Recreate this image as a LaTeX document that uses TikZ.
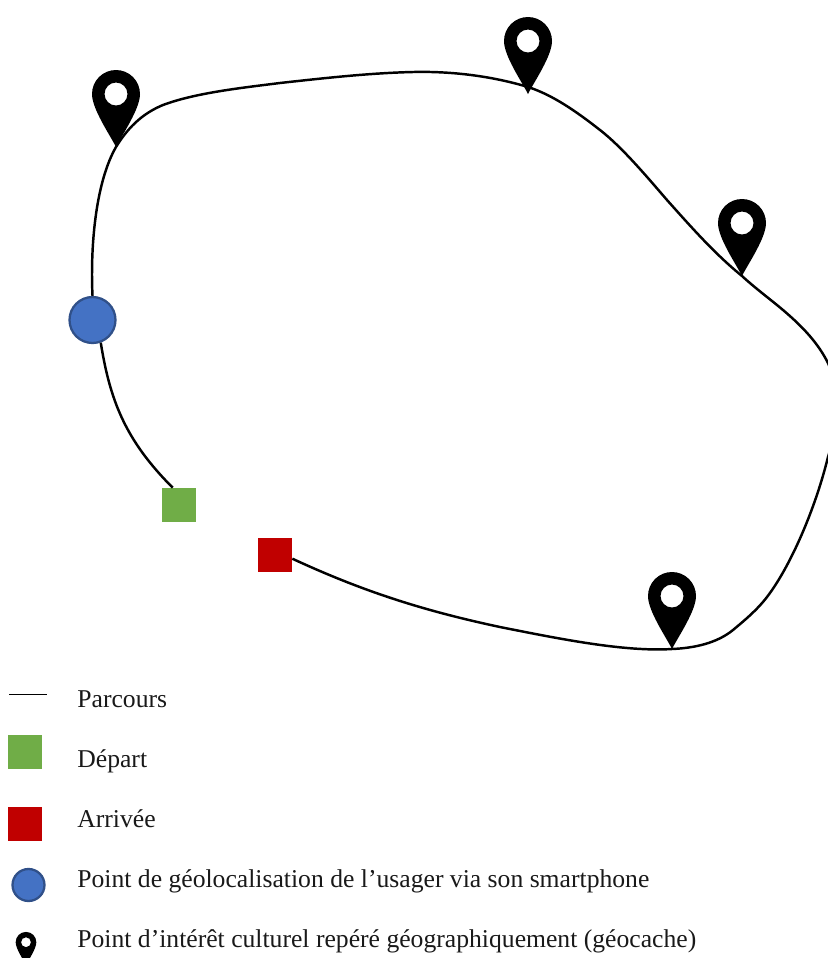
\documentclass[tikz,border=0pt]{standalone}
\usepackage{fontspec}
\setmainfont{Liberation Serif}
\usetikzlibrary{positioning}

\begin{document}
\begin{tikzpicture}[
    x=0.02cm, y=-0.02cm,
    route/.style={draw=black, line width=1.4pt},
    depart/.style={rectangle, fill=startgreen, minimum size=0.68cm, inner sep=0pt},
    arrivee/.style={rectangle, fill=endred, minimum size=0.68cm, inner sep=0pt},
    geoloc/.style={circle, draw=userblue!70!black, line width=1.3pt, fill=userblue, inner sep=0pt},
    legend/.style={anchor=base west, inner sep=0pt, font=\fontsize{14.6}{17}\selectfont, text=black!90},
    pinmark/.pic={
        \fill[black, even odd rule] (0,0) .. controls (-6,-12) and (-24,-38) .. (-24,-53)
            arc (180:360:24) .. controls (24,-38) and (6,-12) .. (0,0) -- cycle
            (0,-53) circle (11.5);
    }
]
\definecolor{startgreen}{HTML}{70AD47}
\definecolor{endred}{HTML}{C00000}
\definecolor{userblue}{HTML}{4472C4}

\clip (0,0) rectangle (828,958);
\useasboundingbox (0,0) rectangle (828,958);

% Markers on the route
\node[depart] (start) at (179,505) {};
\node[arrivee] (finish) at (275,555) {};
\node[geoloc, minimum size=0.92cm] (user) at (92.5,320) {};

% Points of interest
\coordinate (pinW) at (116,147);
\coordinate (pinN) at (528,94);
\coordinate (pinE) at (742,276);
\coordinate (pinS) at (672,649);

% Route
\draw[route] (finish.-12) .. controls (360,590) and (420,610) .. (500,627)
    .. controls (560,639) and (625,652) .. (pinS)
    .. controls (695,648) and (717,643) .. (733,630)
    .. controls (745,620) and (757,610) .. (767,597)
    .. controls (790,567) and (815,510) .. (828,457)
    .. controls (838,425) and (840,390) .. (828,363)
    .. controls (818,343) and (803,327) .. (783,310)
    .. controls (770,299) and (755,288) .. (pinE)
    .. controls (715,254) and (692,228) .. (667,200)
    .. controls (648,178) and (622,147) .. (600,130)
    .. controls (577,112) and (553,95) .. (528,87)
    .. controls (495,77) and (455,71) .. (413,72)
    .. controls (370,73) and (325,78) .. (280,83)
    .. controls (240,88) and (195,93) .. (163,105)
    .. controls (146,112) and (130,124) .. (pinW)
    .. controls (97,180) and (90,240) .. (user.north);
\draw[route] (user.-70) .. controls (110,400) and (125,440) .. (start.110);

\pic at (pinW) {pinmark};
\pic at (pinN) {pinmark};
\pic at (pinE) {pinmark};
\pic at (pinS) {pinmark};

% Legend
\coordinate (lineL) at (9,694);
\coordinate (lineR) at (47,694);
\draw[line width=0.5pt] (lineL) -- (lineR);
\node[depart] (startKey) at (25,752) {};
\node[arrivee] (finishKey) at (25,824) {};
\node[geoloc, minimum size=0.64cm] (userKey) at (28.5,885) {};
\pic[scale=0.43] at (26,965) {pinmark};

\node[legend] (parcours) at (77,707) {Parcours};
\node[legend] (departLbl) at (77,767) {Départ};
\node[legend] (arriveeLbl) at (77,827) {Arrivée};
\node[legend] (userLbl) at (77,887) {Point de géolocalisation de l’usager via son smartphone};
\node[legend] (pinLbl) at (77,947) {Point d’intérêt culturel repéré géographiquement (géocache)};

\end{tikzpicture}
\end{document}
